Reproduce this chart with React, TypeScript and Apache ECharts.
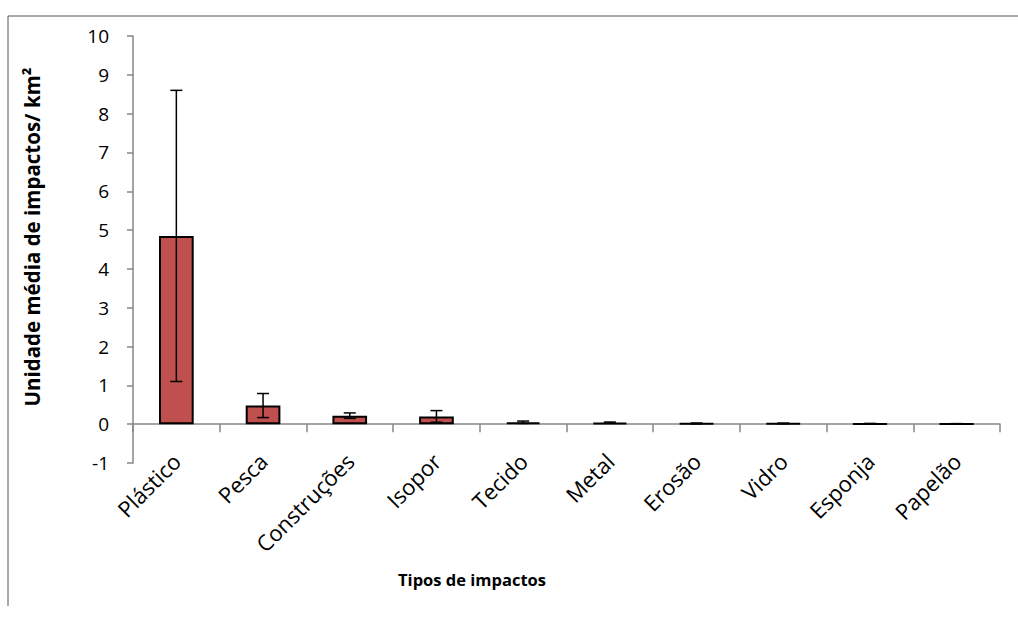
import React, { useEffect, useRef } from "react";
import * as echarts from "echarts";

const categories = ["Plástico", "Pesca", "Construções", "Isopor", "Tecido", "Metal", "Erosão", "Vidro", "Esponja", "Papelão"];
const means = [4.85, 0.48, 0.22, 0.2, 0.05, 0.04, 0.02, 0.02, 0.01, 0.01];
const errors = [3.75, 0.31, 0.07, 0.15, 0.03, 0.015, 0.01, 0.008, 0.01, 0.005];
const yTicks = { min: -1, max: 10, interval: 1 };
const xTitle = "Tipos de impactos";
const yTitle = "Unidade média de impactos/ km²";

const FONT = "'Open Sans', 'Noto Sans', sans-serif";

export default function App() {
  const ref = useRef<HTMLDivElement>(null);
  useEffect(() => {
    if (!ref.current) return;
    const chart = echarts.init(ref.current, null, { renderer: "svg" });
    const errData = categories.map((c, i) => [i, means[i] - errors[i], means[i] + errors[i]]);
    chart.setOption({
      animation: false,
      backgroundColor: "#ffffff",
      grid: { left: 133, top: 36, width: 867, height: 427, containLabel: false, outerBoundsMode: "none" },
      xAxis: {
        type: "category",
        data: categories,
        axisLine: { onZero: true, lineStyle: { color: "#868686", width: 1.5 } },
        axisTick: { show: true, length: 8, lineStyle: { color: "#868686", width: 1.5 } },
        axisLabel: { rotate: 45, margin: -6, fontFamily: FONT, fontSize: 22, color: "#000", interval: 0 },
      },
      yAxis: {
        type: "value",
        min: yTicks.min,
        max: yTicks.max,
        interval: yTicks.interval,
        splitLine: { show: false },
        axisLine: { show: true, lineStyle: { color: "#868686", width: 1.5 } },
        axisTick: { show: true, length: 6, lineStyle: { color: "#868686", width: 1.5 } },
        axisLabel: { fontFamily: FONT, fontSize: 19, color: "#000", margin: 24 },
      },
      graphic: [
        { type: "line", shape: { x1: 8, y1: 16, x2: 1018, y2: 16 }, style: { stroke: "#555", lineWidth: 1 } },
        { type: "line", shape: { x1: 8, y1: 16, x2: 8, y2: 606 }, style: { stroke: "#555", lineWidth: 1 } },
        {
          type: "text",
          x: 472,
          y: 579,
          style: { text: xTitle, font: `bold 16.5px ${FONT}`, fill: "#000", textAlign: "center", textVerticalAlign: "middle" },
        },
        {
          type: "text",
          x: 32,
          y: 237,
          rotation: Math.PI / 2,
          style: { text: yTitle, font: `bold 20.5px ${FONT}`, fill: "#000", textAlign: "center", textVerticalAlign: "middle" },
        },
      ],
      series: [
        {
          type: "bar",
          data: means,
          barWidth: "40%",
          itemStyle: { color: "#C0504D", borderColor: "#000", borderWidth: 2 },
        },
        {
          type: "custom",
          data: errData,
          z: 10,
          renderItem: (params: any, api: any) => {
            const idx = api.value(0);
            const lo = api.coord([idx, api.value(1)]);
            const hi = api.coord([idx, api.value(2)]);
            const hw = 6;
            const st = { stroke: "#000", lineWidth: 1.5 };
            return {
              type: "group",
              children: [
                { type: "line", shape: { x1: lo[0], y1: lo[1], x2: hi[0], y2: hi[1] }, style: st },
                { type: "line", shape: { x1: lo[0] - hw, y1: lo[1], x2: lo[0] + hw, y2: lo[1] }, style: st },
                { type: "line", shape: { x1: hi[0] - hw, y1: hi[1], x2: hi[0] + hw, y2: hi[1] }, style: st },
              ],
            };
          },
        },
      ],
    });
    return () => chart.dispose();
  }, []);
  return <div ref={ref} style={{ position: "fixed", left: 0, top: 0, width: 1018, height: 621 }} />;
}
